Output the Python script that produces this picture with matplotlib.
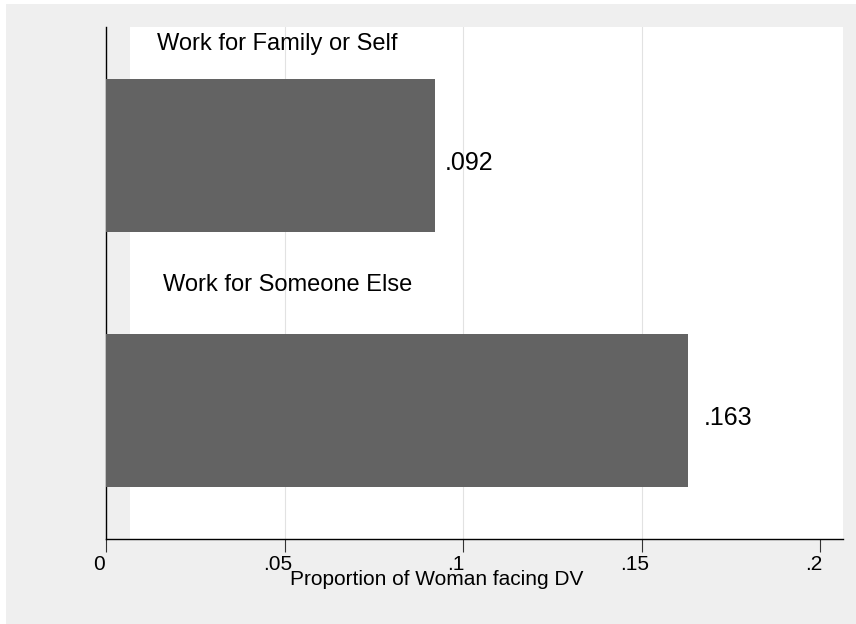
import numpy as np
import matplotlib
matplotlib.use('Agg')
import matplotlib.pyplot as plt
from matplotlib.patches import Rectangle
from matplotlib.transforms import ScaledTranslation

plt.rcParams['font.family'] = ['Liberation Sans', 'DejaVu Sans']

# data
groups = ['Work for Family or Self', 'Work for Someone Else']
values = [0.092, 0.163]
value_text = ['.092', '.163']
xticks = [0, 0.05, 0.1, 0.15, 0.2]
xtick_labels = ['0', '.05', '.1', '.15', '.2']

bg = '#efefef'
barcol = '#636363'

fig = plt.figure(figsize=(8.56, 6.24), dpi=100, facecolor=bg)
# thin white margin top/left like the original export
fig.patches.append(Rectangle((0, 1 - 4/624), 1, 4/624, transform=fig.transFigure,
                             facecolor='white', edgecolor='none', zorder=-1))
fig.patches.append(Rectangle((0, 0), 6/856, 1, transform=fig.transFigure,
                             facecolor='white', edgecolor='none', zorder=-1))

ax = fig.add_axes([106/856, 85/624, 737/856, 512/624])
ax.set_facecolor('white')

pos = np.arange(len(values))
ax.barh(pos, values, height=0.6, color=barcol, zorder=3)

ax.set_xlim(0, 0.2063)
ax.set_ylim(1.504, -0.504)
# grey strip next to the y axis (plot region starts a bit right of 0)
ax.axvspan(0, 0.0067, color=bg, lw=0, zorder=1)

for x in xticks[1:4]:
    ax.axvline(x, color='#e2e2e2', lw=0.8, zorder=2)

# group labels above bars
lab_x = [0.0143, 0.0160]
lab_y = [-0.414, 0.531]
for i, g in enumerate(groups):
    ax.text(lab_x[i], lab_y[i], g, fontsize=17, ha='left', va='baseline', zorder=4)

# value labels
offs = [0.0027, 0.0042]
for i, v in enumerate(values):
    ax.text(v + offs[i], pos[i] + 0.028, value_text[i], fontsize=18,
            ha='left', va='center', zorder=4)

ax.set_xticks(xticks)
ax.set_xticklabels(xtick_labels)
ax.set_yticks([])
ax.tick_params(axis='x', direction='out', length=9, width=0.8, color='#333333',
               labelsize=15, pad=2.5)
# stata puts the tick labels a little left of the ticks
shift = ScaledTranslation(-7/100, 0, fig.dpi_scale_trans)
for lab in ax.get_xticklabels():
    lab.set_transform(lab.get_transform() + shift)
for s in ['top', 'right']:
    ax.spines[s].set_visible(False)
ax.spines['left'].set_linewidth(1.0)
ax.spines['bottom'].set_linewidth(1.0)

fig.text(437/856, (624-585)/624, 'Proportion of Woman facing DV', fontsize=15,
         ha='center', va='baseline')

fig.savefig('out.png', dpi=100, facecolor=bg)
